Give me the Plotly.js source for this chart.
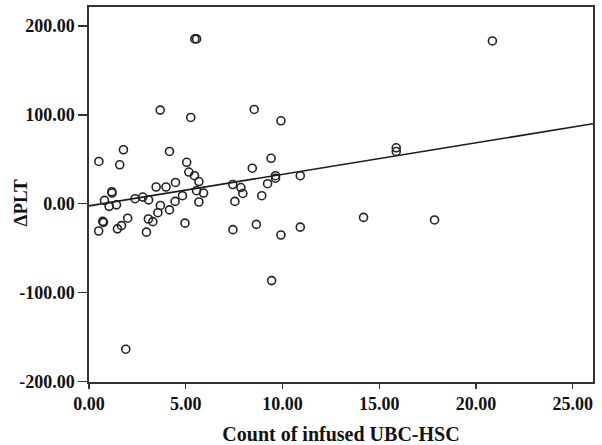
<!DOCTYPE html>
<html>
<head>
<meta charset="utf-8">
<script src="https://cdn.plot.ly/plotly-3.0.1.min.js"></script>
<style>html,body{margin:0;padding:0;background:#fff;}#chart{width:602px;height:445px;}</style>
</head>
<body>
<div id="chart"></div>
<script>
// Count of infused UBC-HSC (x) vs ΔPLT (y)
const countHSC = [0.51, 1.78, 4.16, 1.59, 5.05, 5.16, 5.45, 5.68, 9.41, 8.44,
  3.47, 3.98, 4.47, 7.43, 7.85, 7.95, 9.23, 9.64, 9.64, 10.92,
  1.18, 1.19, 0.80, 1.04, 1.42, 2.38, 2.78, 3.08, 5.56, 5.92,
  4.83, 4.45, 3.69, 3.56, 4.16, 5.68, 7.54, 8.93, 0.71, 0.75,
  0.50, 1.47, 1.68, 2.00, 3.07, 3.30, 2.97, 4.96, 7.44, 8.65,
  9.92, 10.92, 9.44, 1.90, 3.68, 5.26, 5.47, 5.56, 8.54, 9.92,
  20.85, 15.88, 15.88, 14.19, 17.86];
const deltaPLT = [47.5, 60.7, 58.8, 43.8, 46.6, 35.6, 31.5, 24.9, 51.1, 39.9,
  18.8, 18.8, 23.9, 21.6, 18.2, 11.5, 22.5, 31.5, 28.7, 31.5,
  13.5, 12.0, 3.7, -3.0, -1.3, 5.6, 7.5, 4.3, 14.6, 12.0,
  9.0, 2.6, -2.0, -10.1, -7.0, 1.9, 2.6, 9.0, -19.9, -21.0,
  -30.7, -28.3, -24.7, -16.3, -17.2, -20.2, -32.0, -21.9, -29.2, -23.3,
  -35.2, -26.4, -86.5, -163.7, 105.3, 97.0, 185.4, 185.4, 106.0, 93.3,
  183.1, 62.9, 58.8, -15.4, -18.3];

// Fit line as drawn in the picture
const fitIntercept = -2.5;
const fitSlope = 3.55;
const xRange = [0, 26.05];
const yRange = [-200.6, 221.3];

const xTicks = [0, 5, 10, 15, 20, 25];
const xTickText = ['0.00', '5.00', '10.00', '15.00', '20.00', '25.00'];
const yTicks = [-200, -100, 0, 100, 200];
const yTickText = ['-200.00', '-100.00', '0.00', '100.00', '200.00'];

const xTitle = 'Count of infused UBC-HSC';
const yTitle = 'ΔPLT';

const fitX = xRange.slice();
const fitY = fitX.map(x => fitIntercept + fitSlope * x);

const fontFam = '"Liberation Serif", "Times New Roman", serif';

const traces = [
  {
    x: fitX, y: fitY, type: 'scatter', mode: 'lines',
    line: {color: '#1a1a1a', width: 1.6},
    hoverinfo: 'skip', showlegend: false
  },
  {
    x: countHSC, y: deltaPLT, type: 'scatter', mode: 'markers',
    marker: {symbol: 'circle-open', size: 8, color: '#222', line: {color: '#222', width: 1.6}},
    showlegend: false, cliponaxis: false
  }
];

const layout = {
  width: 602, height: 445,
  margin: {l: 89, r: 9, t: 7, b: 63, pad: 0},
  paper_bgcolor: '#fff', plot_bgcolor: '#fff',
  font: {family: fontFam, color: '#111', size: 18},
  xaxis: {
    range: xRange, tickmode: 'array', tickvals: xTicks, ticktext: xTickText,
    showgrid: false, zeroline: false,
    showline: true, linecolor: '#333', linewidth: 1.6, mirror: true,
    ticks: 'outside', ticklen: 5, tickwidth: 1.4, tickcolor: '#333',
    tickfont: {family: fontFam, size: 18, color: '#111', weight: 'bold'},
    title: {text: '<b>' + xTitle + '</b>', font: {family: fontFam, size: 20, color: '#111'}, standoff: 14}
  },
  yaxis: {
    range: yRange, tickmode: 'array', tickvals: yTicks, ticktext: yTickText,
    showgrid: false, zeroline: false,
    showline: true, linecolor: '#333', linewidth: 1.6, mirror: true,
    ticks: 'outside', ticklen: 9, tickwidth: 1.4, tickcolor: '#333',
    tickfont: {family: fontFam, size: 18, color: '#111', weight: 'bold'}
  },
  annotations: [{
    text: '<b>' + yTitle + '</b>', textangle: -90,
    xref: 'paper', yref: 'paper', x: 0, y: 0.476,
    xanchor: 'center', yanchor: 'middle', xshift: -69, showarrow: false,
    font: {family: fontFam, size: 19, color: '#111'}
  }]
};

Plotly.newPlot('chart', traces, layout, {displayModeBar: false, staticPlot: true});
</script>
</body>
</html>
